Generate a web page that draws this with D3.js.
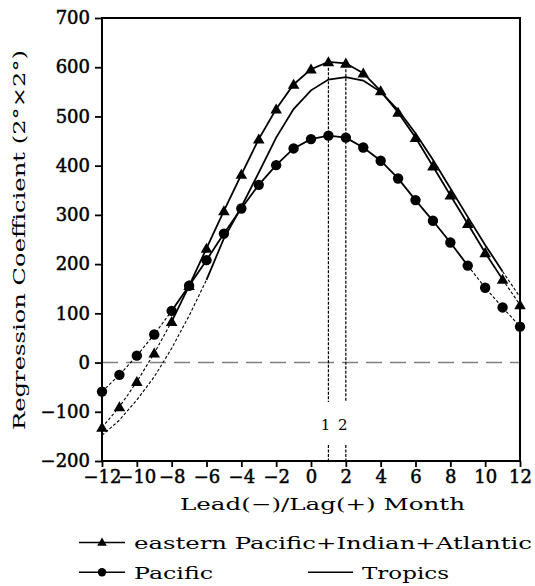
<!DOCTYPE html>
<html>
<head>
  <meta charset="utf-8">
  <script src="https://d3js.org/d3.v7.min.js"></script>
  <style>
    html, body {
        margin: 0px;
        padding: 0px;
        background: #fff;
    }
    text {
        font-family: "DejaVu Serif", serif;
        fill: #000;
    }
  </style>
  <title></title>
</head>
<body>
<div id="chart"></div>
<script>
    // lead/lag months and the three regression curves
    var months = d3.range(-12, 13);
    var eastern = [-132, -90, -39, 19, 83, 156, 232, 308, 382, 454, 515, 565, 596, 611, 608, 588, 552, 508, 457, 399, 340, 282, 223, 169, 117];
    var pacific = [-59, -25, 14, 57, 105, 156, 208, 262, 313, 361, 401, 435, 454, 461, 457, 437, 410, 374, 330, 288, 244, 197, 152, 112, 73];
    var tropics = [-148, -117, -76, -29, 29, 95, 168, 252, 316, 386, 457, 515, 553, 575, 580, 573, 550, 513, 466, 412, 354, 296, 239, 185, 133];
    // month span where each curve is drawn solid (dotted outside)
    var solidEastern = [-8, 11];
    var solidPacific = [-8, 9];
    var solidTropics = [-6, 11];
    var xTicks = d3.range(-12, 13, 2);
    var yTicks = d3.range(-200, 701, 100);
    var peakMonths = [1, 2];

    var width = 535, height = 586;
    // note: "top" is taken by window.top, so use plot* names
    var plotL = 102, plotR = 520, plotT = 18, plotB = 461;

    var svg = d3.select("#chart").append("svg")
        .attr("width", width)
        .attr("height", height);

    var x = d3.scaleLinear().domain([-12, 12]).range([plotL, plotR]);
    var y = d3.scaleLinear().domain([-200, 700]).range([plotB, plotT]);

    // zero line
    svg.append("line")
        .attr("x1", plotL).attr("x2", plotR)
        .attr("y1", y(0)).attr("y2", y(0))
        .style("stroke", "#808080")
        .style("stroke-width", 1.5)
        .style("stroke-dasharray", "16,8");

    // vertical markers at months 1 and 2, broken around the labels
    peakMonths.forEach(function(m) {
        var i = months.indexOf(m);
        svg.append("line")
            .attr("x1", x(m)).attr("x2", x(m))
            .attr("y1", y(eastern[i]) + 6).attr("y2", 402)
            .style("stroke", "#000").style("stroke-width", 1.2)
            .style("stroke-dasharray", "3,1.5");
        svg.append("line")
            .attr("x1", x(m)).attr("x2", x(m))
            .attr("y1", 445).attr("y2", plotB)
            .style("stroke", "#000").style("stroke-width", 1.2)
            .style("stroke-dasharray", "3,1.5");
        svg.append("text")
            .attr("x", x(m) - 3)
            .attr("y", 430)
            .attr("text-anchor", "middle")
            .style("font-size", "15px")
            .text(m);
    });

    var line = d3.line()
        .x(function(d) { return x(d[0]); })
        .y(function(d) { return y(d[1]); });

    function drawSeries(values, span) {
        var pts = months.map(function(m, i) { return [m, values[i]]; });
        var before = pts.filter(function(d) { return d[0] <= span[0]; });
        var mid = pts.filter(function(d) { return d[0] >= span[0] && d[0] <= span[1]; });
        var after = pts.filter(function(d) { return d[0] >= span[1]; });
        [before, after].forEach(function(seg) {
            if (seg.length < 2) return;
            svg.append("path")
                .attr("d", line(seg))
                .style("fill", "none")
                .style("stroke", "#000")
                .style("stroke-width", 1.1)
                .style("stroke-dasharray", "3,2");
        });
        svg.append("path")
            .attr("d", line(mid))
            .style("fill", "none")
            .style("stroke", "#000")
            .style("stroke-width", 1.8);
        return pts;
    }

    drawSeries(tropics, solidTropics);
    var ptsP = drawSeries(pacific, solidPacific);
    var ptsE = drawSeries(eastern, solidEastern);

    svg.selectAll(".dot")
        .data(ptsP)
        .enter().append("circle")
        .attr("cx", function(d) { return x(d[0]); })
        .attr("cy", function(d) { return y(d[1]); })
        .attr("r", 5.2)
        .style("fill", "#000");

    var tri = d3.symbol().type(d3.symbolTriangle).size(58);
    svg.selectAll(".tri")
        .data(ptsE)
        .enter().append("path")
        .attr("d", tri)
        .attr("transform", function(d) { return "translate(" + x(d[0]) + "," + (y(d[1]) + 1) + ")"; })
        .style("fill", "#000");

    // frame
    svg.append("rect")
        .attr("x", plotL).attr("y", plotT)
        .attr("width", plotR - plotL).attr("height", plotB - plotT)
        .style("fill", "none")
        .style("stroke", "#000")
        .style("stroke-width", 2);

    // axes
    var xAxis = svg.append("g")
        .attr("transform", "translate(0," + plotB + ")")
        .call(d3.axisBottom(x).tickValues(xTicks).tickSize(6).tickPadding(3));
    var yAxis = svg.append("g")
        .attr("transform", "translate(" + plotL + ",0)")
        .call(d3.axisLeft(y).tickValues(yTicks).tickSize(7).tickPadding(5));

    [xAxis, yAxis].forEach(function(g) {
        g.select(".domain").remove();
        g.selectAll(".tick line").style("stroke", "#000").style("stroke-width", 1.8);
        g.selectAll(".tick text")
            .style("font-family", "'DejaVu Serif', serif")
            .style("font-size", "18px")
            .style("fill", "#000")
            .style("stroke", "#000")
            .style("stroke-width", 0.5);
    });

    // axis titles
    svg.append("text")
        .attr("x", 180)
        .attr("y", 510)
        .attr("textLength", 285)
        .attr("lengthAdjust", "spacingAndGlyphs")
        .style("font-size", "17px")
        .text("Lead(\u2212)/Lag(+) Month");

    svg.append("text")
        .attr("transform", "translate(25,430) rotate(-90)")
        .attr("textLength", 380)
        .attr("lengthAdjust", "spacingAndGlyphs")
        .style("font-size", "17px")
        .text("Regression Coefficient (2\u00b0\u00d72\u00b0)");

    // legend
    svg.append("line")
        .attr("x1", 79).attr("x2", 125).attr("y1", 542.5).attr("y2", 542.5)
        .style("stroke", "#000").style("stroke-width", 1.6);
    svg.append("path")
        .attr("d", d3.symbol().type(d3.symbolTriangle).size(40))
        .attr("transform", "translate(102,543)")
        .style("fill", "#000");
    svg.append("text")
        .attr("x", 134).attr("y", 549)
        .attr("textLength", 398)
        .attr("lengthAdjust", "spacingAndGlyphs")
        .style("font-size", "17px")
        .text("eastern Pacific+Indian+Atlantic");

    svg.append("line")
        .attr("x1", 79).attr("x2", 125).attr("y1", 572.3).attr("y2", 572.3)
        .style("stroke", "#000").style("stroke-width", 1.6);
    svg.append("circle")
        .attr("cx", 102).attr("cy", 572.3).attr("r", 4.2)
        .style("fill", "#000");
    svg.append("text")
        .attr("x", 134).attr("y", 579)
        .attr("textLength", 79)
        .attr("lengthAdjust", "spacingAndGlyphs")
        .style("font-size", "17px")
        .text("Pacific");

    svg.append("line")
        .attr("x1", 308).attr("x2", 353).attr("y1", 572.3).attr("y2", 572.3)
        .style("stroke", "#000").style("stroke-width", 1.6);
    svg.append("text")
        .attr("x", 362).attr("y", 579)
        .attr("textLength", 87)
        .attr("lengthAdjust", "spacingAndGlyphs")
        .style("font-size", "17px")
        .text("Tropics");
</script>
</body>
</html>
